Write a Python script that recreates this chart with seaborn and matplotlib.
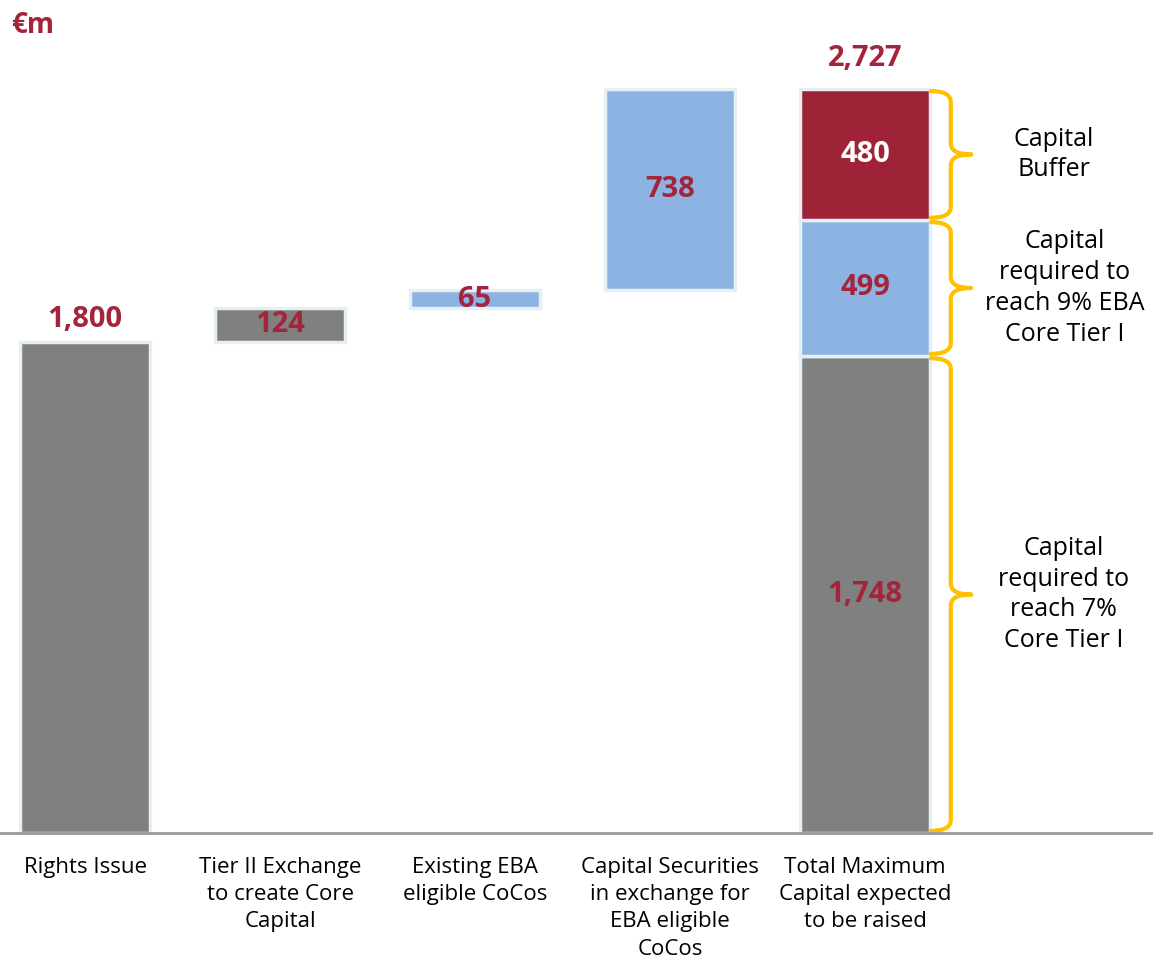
import matplotlib
matplotlib.use("Agg")
import matplotlib.pyplot as plt
from matplotlib.path import Path
from matplotlib.patches import PathPatch
import seaborn as sns

sns.set_theme(style="white")
plt.rcParams["font.family"] = ["Open Sans", "DejaVu Sans"]

# --- data -------------------------------------------------------------
categories = [
    "Rights Issue",
    "Tier II Exchange\nto create Core\nCapital",
    "Existing EBA\neligible CoCos",
    "Capital Securities\nin exchange for\nEBA eligible\nCoCos",
    "Total Maximum\nCapital expected\nto be raised",
]
step_values = [1800, 124, 65, 738]          # waterfall steps
step_kinds = ["core", "core", "eba", "eba"]
total_parts = [1748, 499, 480]              # composition of the total
total_kinds = ["core", "eba", "buffer"]
total_value = 2727
brace_texts = [
    "Capital\nrequired to\nreach 7%\nCore Tier I",
    "Capital\nrequired to\nreach 9% EBA\nCore Tier I",
    "Capital\nBuffer",
]

# --- style ------------------------------------------------------------
GREY = "#808080"
BLUE = "#8DB3E2"
RED = "#9E2337"
LABEL_RED = "#A3243B"
GOLD = "#FFC000"
EDGE = "#E6EFF4"
kind_color = {"core": GREY, "eba": BLUE, "buffer": RED}
BAR_W = 0.665
VAL_FS = 21

fig = plt.figure(figsize=(11.53, 9.59), dpi=100)
ax = fig.add_axes([0, 0.1314, 1, 0.8686])


def draw_bar(cat, base, height, color):
    sns.barplot(x=[cat], y=[height], bottom=base, order=categories,
                color=color, width=BAR_W, edgecolor=EDGE, linewidth=2.5,
                saturation=1, ax=ax)


def fmt(v):
    return f"{v:,}"


# waterfall steps
running = 0
for i, (val, kind) in enumerate(zip(step_values, step_kinds)):
    draw_bar(categories[i], running, val, kind_color[kind])
    if i == 0:
        ax.text(i, running + val + 30, fmt(val), ha="center", va="bottom",
                fontsize=VAL_FS, fontweight="bold", color=LABEL_RED)
    else:
        ax.text(i, running + val / 2, fmt(val), ha="center", va="center",
                fontsize=VAL_FS, fontweight="bold", color=LABEL_RED)
    running += val

# stacked total
ti = len(categories) - 1
base = 0
segments = []
for val, kind in zip(total_parts, total_kinds):
    draw_bar(categories[ti], base, val, kind_color[kind])
    txt_color = "white" if kind == "buffer" else LABEL_RED
    ax.text(ti, base + val / 2, fmt(val), ha="center", va="center",
            fontsize=VAL_FS, fontweight="bold", color=txt_color)
    segments.append((base, base + val))
    base += val
ax.text(ti, total_value + 60, fmt(total_value), ha="center", va="bottom",
        fontsize=VAL_FS, fontweight="bold", color=LABEL_RED)


# curly braces to the right of the total bar
def brace(y0, y1, x0=4.338, xv=4.44, xt=4.545, r=40):
    ym = (y0 + y1) / 2
    verts = [
        (x0, y0), (xv, y0), (xv, y0 + r),
        (xv, ym - r), (xv, ym), (xt, ym),
        (xv, ym), (xv, ym + r),
        (xv, y1 - r), (xv, y1), (x0, y1),
    ]
    codes = [Path.MOVETO, Path.CURVE3, Path.CURVE3,
             Path.LINETO, Path.CURVE3, Path.CURVE3,
             Path.CURVE3, Path.CURVE3,
             Path.LINETO, Path.CURVE3, Path.CURVE3]
    ax.add_patch(PathPatch(Path(verts, codes), fill=False, edgecolor=GOLD,
                           linewidth=3, capstyle="round", joinstyle="round",
                           clip_on=False))


text_x = [5.02, 5.025, 4.97]
for (y0, y1), txt, tx in zip(segments, brace_texts, text_x):
    brace(y0 + 8, y1 - 8)
    ax.text(tx, (y0 + y1) / 2, txt, ha="center", va="center",
            fontsize=18, color="black", linespacing=1.3)

# currency unit
fig.text(0.010, 0.973, "€m", ha="left", va="center", fontsize=20,
         fontweight="bold", color=LABEL_RED)

# axes
ax.set_xlim(-0.436, 5.477)
ax.set_ylim(0, 3053)
ax.set_xlabel("")
ax.set_ylabel("")
ax.set_yticks([])
ax.set_xticks(range(len(categories)))
ax.set_xticklabels(categories, fontsize=16, color="black",
                   linespacing=1.4)
ax.tick_params(axis="x", length=0, pad=17)
for side in ["top", "right", "left"]:
    ax.spines[side].set_visible(False)
ax.spines["bottom"].set_color("#999999")
ax.spines["bottom"].set_linewidth(2)
ax.patch.set_alpha(0)

fig.savefig("out.png", dpi=100, facecolor="white")
